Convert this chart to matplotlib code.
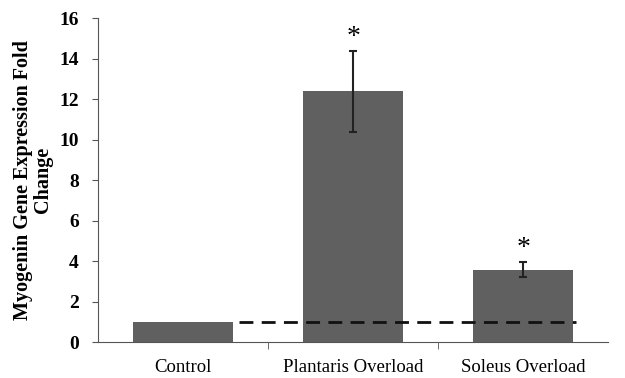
import numpy as np
import matplotlib.pyplot as plt

plt.rcParams['font.family'] = ['Liberation Serif', 'DejaVu Serif']

categories = ['Control', 'Plantaris Overload', 'Soleus Overload']
fold_change = [1.0, 12.4, 3.58]
errors = [0.0, 2.0, 0.38]
stars = ['', '*', '*']
baseline = 1.0

fig = plt.figure(figsize=(6.25, 3.78), dpi=100)
ax = fig.add_axes([0.157, 0.095, 0.816, 0.857])

x = np.arange(len(categories))
ax.bar(x, fold_change, width=0.59, color='#606060', zorder=2)
for xi, v, e in zip(x, fold_change, errors):
    if e > 0:
        ax.errorbar(xi, v, yerr=e, fmt='none', ecolor='#222222', elinewidth=1.5,
                    capsize=3, capthick=1.5, zorder=3)
for xi, v, e, s in zip(x, fold_change, errors, stars):
    if s:
        ax.text(xi, v + e + 0.05, s, ha='center', va='bottom', fontsize=20)

ax.plot([0.33, 2.31], [baseline, baseline], color='#111111', linestyle=(0, (5, 3)),
        linewidth=2, zorder=4)

ax.set_xlim(-0.5, 2.5)
ax.set_ylim(0, 16)
ax.set_yticks(np.arange(0, 17, 2))
ax.set_xticks(x)
ax.set_xticklabels(categories, fontsize=13.5)
ax.set_xticks([0.5, 1.5], minor=True)
ax.tick_params(axis='x', which='major', length=0, pad=12)
ax.tick_params(axis='x', which='minor', length=5, direction='out', color='#555555')
ax.tick_params(axis='y', length=4, direction='out', labelsize=14, color='#555555', pad=10)
for lbl in ax.get_yticklabels():
    lbl.set_fontweight('bold')

ax.spines['top'].set_visible(False)
ax.spines['right'].set_visible(False)
ax.spines['left'].set_color('#555555')
ax.spines['bottom'].set_color('#555555')

ax.set_ylabel('Myogenin Gene Expression Fold\nChange', fontsize=14.5, fontweight='bold',
              labelpad=4, linespacing=1.0)

fig.savefig('out.png', dpi=100)
